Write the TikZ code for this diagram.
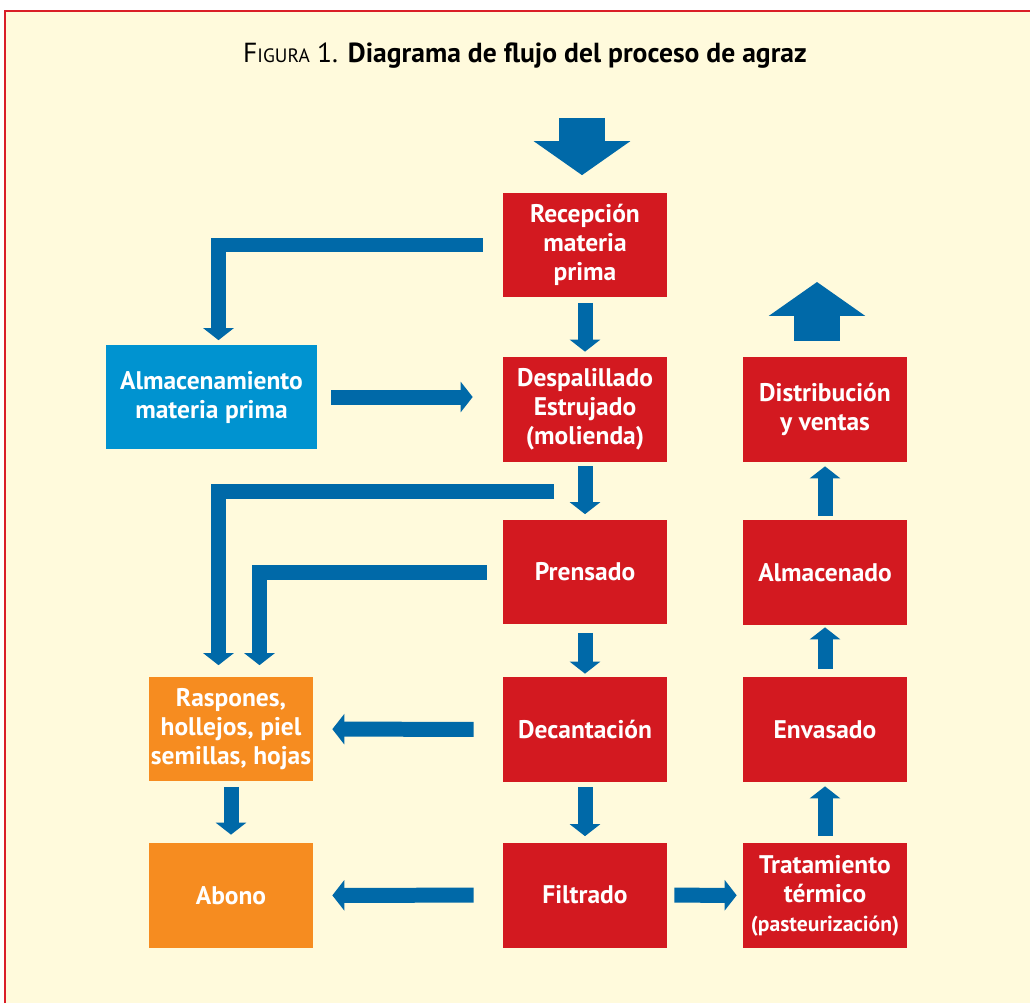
\documentclass[tikz,border=0pt]{standalone}
\usepackage{fontspec}
\setmainfont{PT Sans}
\usetikzlibrary{arrows.meta}
\definecolor{agrazred}{RGB}{211,25,32}
\definecolor{agrazblue}{RGB}{0,105,168}
\definecolor{agrazcyan}{RGB}{0,147,208}
\definecolor{agrazorange}{RGB}{246,140,32}
\definecolor{agrazcream}{RGB}{255,250,220}
\definecolor{framered}{RGB}{218,30,40}

\begin{document}
\begin{tikzpicture}[x=0.02cm, y=-0.02cm,
    box/.style={fill=agrazred, text=white, minimum width=3.28cm, minimum height=2.1cm,
                inner sep=0pt, align=center, font=\fontsize{14.5}{16.5}\selectfont\bfseries},
    flow/.style={draw=agrazblue, line width=0.3cm, line join=miter,
                 -{Triangle[width=0.6cm, length=0.24cm]}},
    bigflow/.style={draw=agrazblue, line width=0.92cm,
                    -{Triangle[width=1.9cm, length=0.68cm]}}]
    \useasboundingbox (0,0) rectangle (1030,1003);
    \fill[white] (0,0) rectangle (1030,1003);
    \fill[agrazcream] (5,11) rectangle (1030,1003);
    \draw[framered, line width=0.05cm] (5,1003) -- (5,11) -- (1030,11);

    \node (title) at (525,56) {\fontsize{15.7}{18}\selectfont
        F{\fontsize{11}{12}\selectfont IGURA} 1. \textbf{Diagrama de flujo del proceso de agraz}};

    % columna central
    \node[box] (rec)  at (585,245)   {Recepción\\materia\\prima};
    \node[box] (desp) at (585,409.5) {Despalillado\\Estrujado\\(molienda)};
    \node[box] (pren) at (585,572)   {Prensado};
    \node[box] (deca) at (585,729.5) {Decantación};
    \node[box] (filt) at (585,895)   {Filtrado};

    % columna derecha
    \node[box] (dist) at (825,409.5) {Distribución\\y ventas};
    \node[box] (almd) at (825,572.5) {Almacenado};
    \node[box] (envs) at (825,729.5) {Envasado};
    \node[box] (trat) at (825,895.5) {Tratamiento\\térmico\\{\fontsize{12.3}{14}\selectfont (pasteurización)}};

    % columna izquierda
    \node[box, fill=agrazcyan, minimum width=4.22cm] (alma) at (211.5,397) {Almacenamiento\\materia prima};
    \node[box, fill=agrazorange] (rasp) at (231,729)   {Raspones,\\hollejos, piel\\semillas, hojas};
    \node[box, fill=agrazorange] (abon) at (231,895.5) {Abono};

    % entrada y salida
    \coordinate (inlet)  at (582,118);
    \coordinate (outlet) at (817,282);
    \draw[bigflow, shorten >=0.34cm] (inlet) -- (inlet |- rec.north);
    \draw[bigflow, shorten <=0.32cm] (outlet |- dist.north) -- (outlet);

    % flujo principal
    \draw[flow, shorten <=0.1cm,  shorten >=0.1cm]  (rec)  -- (desp);
    \draw[flow, shorten <=0.08cm, shorten >=0.1cm]  (desp) -- (pren);
    \draw[flow, shorten <=0.16cm, shorten >=0.06cm] (pren) -- (deca);
    \draw[flow, shorten <=0.1cm,  shorten >=0.12cm] (deca) -- (filt);
    \draw[flow, shorten <=0.14cm, shorten >=0.12cm] (filt) -- (trat);
    \draw[flow, shorten <=0.14cm, shorten >=0.08cm] (trat) -- (envs);
    \draw[flow, shorten <=0.16cm, shorten >=0.04cm] (envs) -- (almd);
    \draw[flow, shorten <=0.08cm, shorten >=0.08cm] (almd) -- (dist);

    % almacenamiento
    \draw[flow, shorten <=0.4cm, shorten >=0.08cm] (rec.west) -| ([xshift=0.14cm]alma.north);
    \draw[flow, shorten <=0.28cm, shorten >=0.6cm] (alma.east) -- (alma.east -| desp.west);

    % residuos
    \coordinate (dspout) at ([xshift=-0.62cm, yshift=-0.58cm]desp.south);
    \draw[flow, shorten >=0.22cm] (dspout) -| ([xshift=-0.25cm]rasp.north);
    \draw[flow, shorten <=0.32cm, shorten >=0.22cm] (pren.west) -| ([xshift=0.57cm]rasp.north);
    \draw[flow, shorten <=0.58cm, shorten >=0.38cm] (deca) -- (rasp);
    \draw[flow, shorten <=0.1cm,  shorten >=0.16cm] (rasp) -- (abon);
    \draw[flow, shorten <=0.58cm, shorten >=0.38cm] (filt) -- (abon);
\end{tikzpicture}
\end{document}
